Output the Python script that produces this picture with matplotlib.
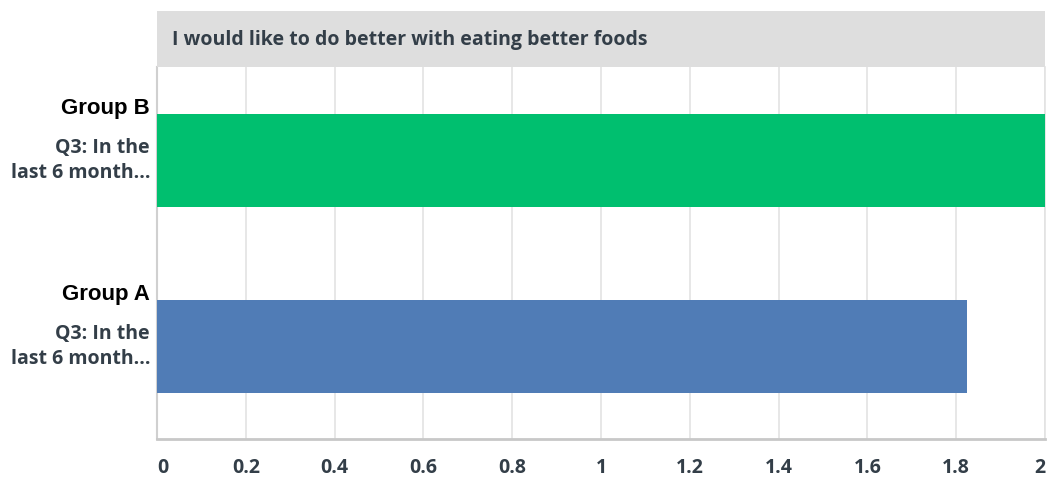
import matplotlib
matplotlib.use("Agg")
import matplotlib.pyplot as plt
from matplotlib.patches import Rectangle

# Data
groups = ["Group A", "Group B"]
question_lines = ["Q3: In the", "last 6 month..."]
values = [1.825, 2.0]
colors = ["#507cb6", "#00bf6f"]
title = "I would like to do better with eating better foods"
xticks = [0, 0.2, 0.4, 0.6, 0.8, 1, 1.2, 1.4, 1.6, 1.8, 2]
xtick_labels = ["0", "0.2", "0.4", "0.6", "0.8", "1", "1.2", "1.4", "1.6", "1.8", "2"]

TEXT = "#333e48"
GRID = "#e3e3e3"

W, H = 1049, 481
fig = plt.figure(figsize=(W / 100, H / 100), dpi=100)
fig.patch.set_facecolor("white")

left, right, top, bottom = 157, 1045, 68, 440
ax = fig.add_axes([left / W, 1 - bottom / H, (right - left) / W, (bottom - top) / H])

ypos = list(range(len(groups)))
ax.barh(ypos, values, height=0.5, color=colors, zorder=3)

ax.set_xlim(0, 2)
ax.set_ylim(-0.5, len(groups) - 0.5)
ax.set_xticks(xticks)
ax.set_xticklabels(xtick_labels, fontfamily="Open Sans", fontweight="bold",
                   fontsize=14, color=TEXT)
ax.tick_params(axis="x", length=0, pad=13)
tl = ax.get_xticklabels()
tl[0].set_horizontalalignment("left")
tl[-1].set_horizontalalignment("right")
ax.set_yticks([])
ax.grid(axis="x", color=GRID, linewidth=1.2, zorder=0)

ax.spines["top"].set_visible(False)
ax.spines["bottom"].set_color("#c8c8c8")
ax.spines["bottom"].set_linewidth(2)
ax.spines["left"].set_color("#d0d0d0")
ax.spines["left"].set_linewidth(1.5)
ax.spines["right"].set_color("#e3e3e3")
ax.spines["right"].set_linewidth(1.2)

# Header band above the plot
hdr_top, hdr_bot = 12, 68
fig.patches.append(Rectangle((left / W, 1 - hdr_bot / H), (right - left) / W,
                             (hdr_bot - hdr_top) / H, transform=fig.transFigure,
                             facecolor="#dedede", edgecolor="none", zorder=0))
fig.text(172 / W, 1 - 40 / H, title, ha="left", va="center",
         fontfamily="Open Sans", fontweight="bold", fontsize=14, color=TEXT)

# Category labels to the left of each bar
for y, g in zip(ypos, groups):
    ax.annotate(g, xy=(0, y), xycoords=("axes fraction", "data"),
                xytext=(-5, 38), textcoords="offset points",
                ha="right", va="center", fontfamily="Liberation Sans",
                fontweight="bold", fontsize=16, color="black",
                annotation_clip=False)
    for i, line in enumerate(question_lines):
        ax.annotate(line, xy=(0, y), xycoords=("axes fraction", "data"),
                    xytext=(-5, 9.5 - 18 * i), textcoords="offset points",
                    ha="right", va="center", fontfamily="Open Sans",
                    fontweight="bold", fontsize=14, color=TEXT,
                    annotation_clip=False)

fig.savefig("out.png", dpi=100)
